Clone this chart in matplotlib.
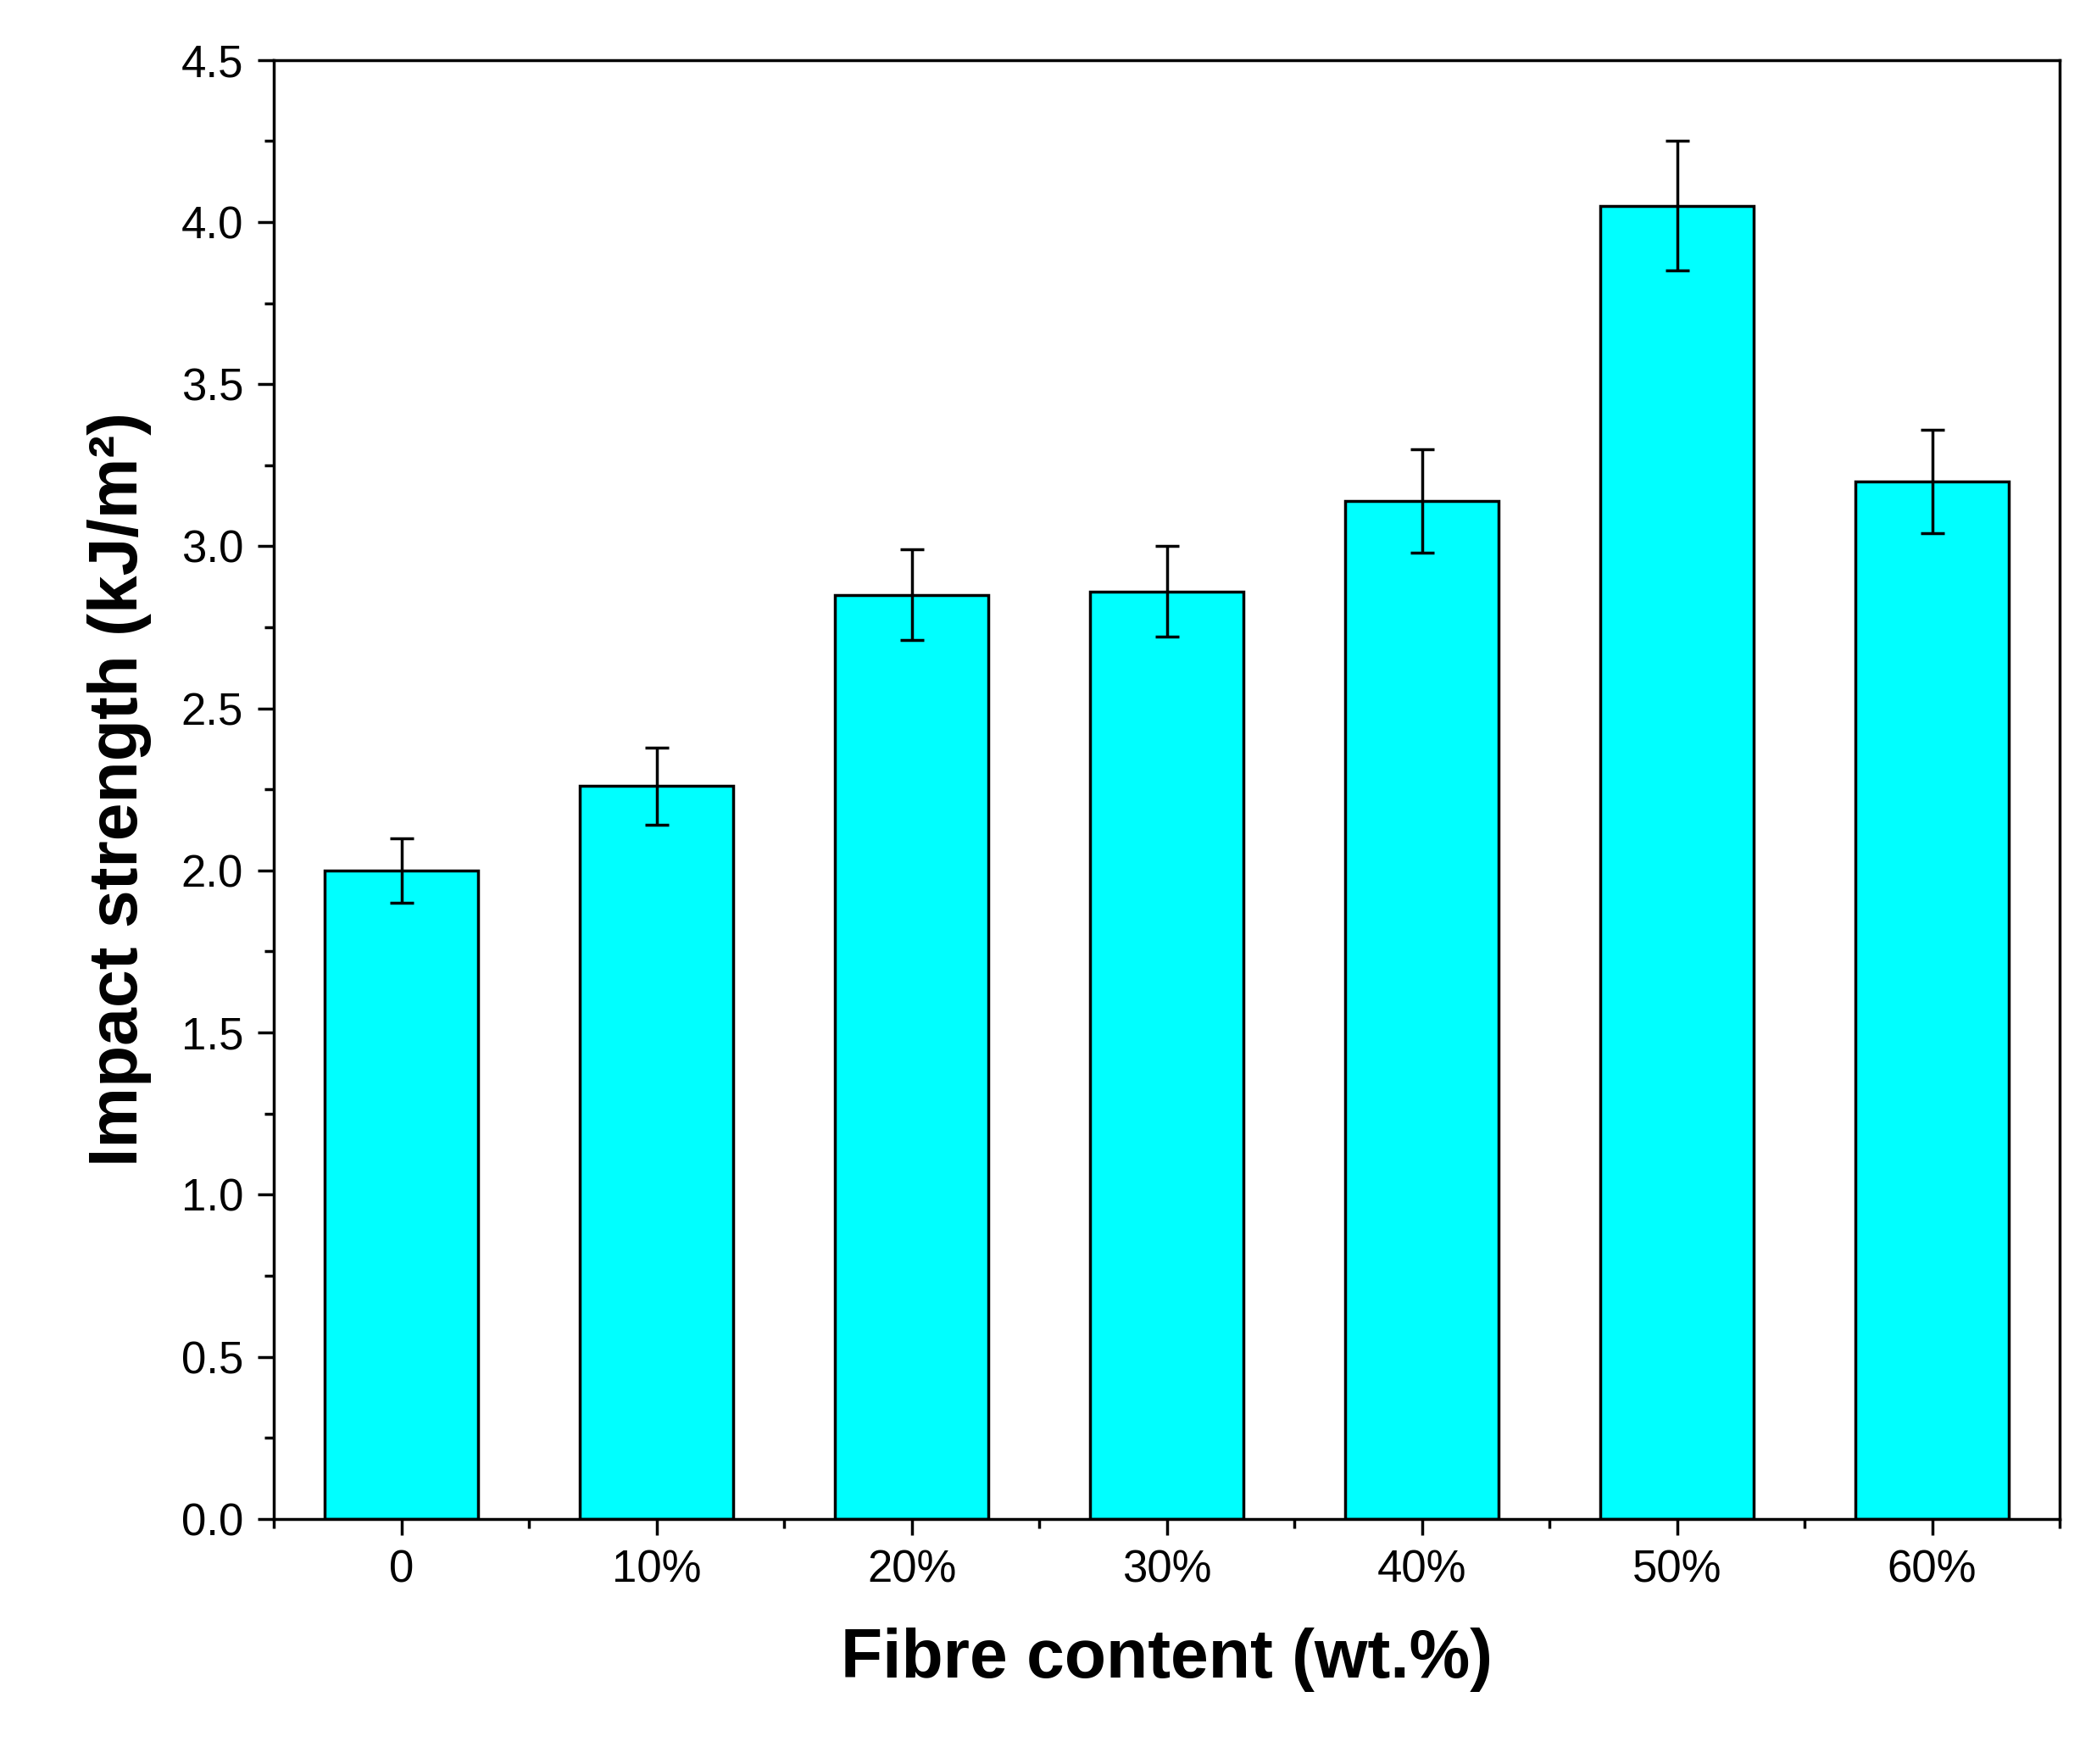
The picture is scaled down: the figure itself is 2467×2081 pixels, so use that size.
import matplotlib
matplotlib.use("Agg")
import matplotlib.pyplot as plt
from matplotlib.ticker import MultipleLocator, FixedLocator

plt.rcParams['font.family'] = ['Liberation Sans', 'DejaVu Sans']

labels = ["0", "10%", "20%", "30%", "40%", "50%", "60%"]
strength = [2.0, 2.26, 2.85, 2.86, 3.14, 4.05, 3.2]
errors = [0.1, 0.12, 0.14, 0.14, 0.16, 0.2, 0.16]

fig = plt.figure(figsize=(24.67, 20.81), dpi=100)
ax = fig.add_axes([0.131, 0.139, 0.854, 0.827])

x = range(len(labels))
ax.bar(x, strength, width=0.6, color="#00FFFF", edgecolor="black", linewidth=2.5,
       yerr=errors, capsize=10, error_kw=dict(ecolor="black", elinewidth=2.5, capthick=2.5))

ax.set_xlim(-0.5, 6.5)
ax.set_ylim(0, 4.5)
ax.set_xticks(list(x))
ax.set_xticklabels(labels)
ax.xaxis.set_minor_locator(FixedLocator([i + 0.5 for i in range(-1, 7)]))
ax.yaxis.set_major_locator(MultipleLocator(0.5))
ax.yaxis.set_minor_locator(MultipleLocator(0.25))
ax.yaxis.set_major_formatter(matplotlib.ticker.FormatStrFormatter('%.1f'))

ax.tick_params(which="major", direction="out", length=14, width=2.5, labelsize=38, pad=12)
ax.tick_params(which="minor", direction="out", length=8, width=2.5)
for s in ax.spines.values():
    s.set_linewidth(2.5)

ax.set_xlabel("Fibre content (wt.%)", fontsize=58, fontweight="bold", labelpad=30)
ax.set_ylabel("Impact strength (kJ/m²)", fontsize=58, fontweight="bold", labelpad=25)

fig.savefig("out.png", dpi=100)
